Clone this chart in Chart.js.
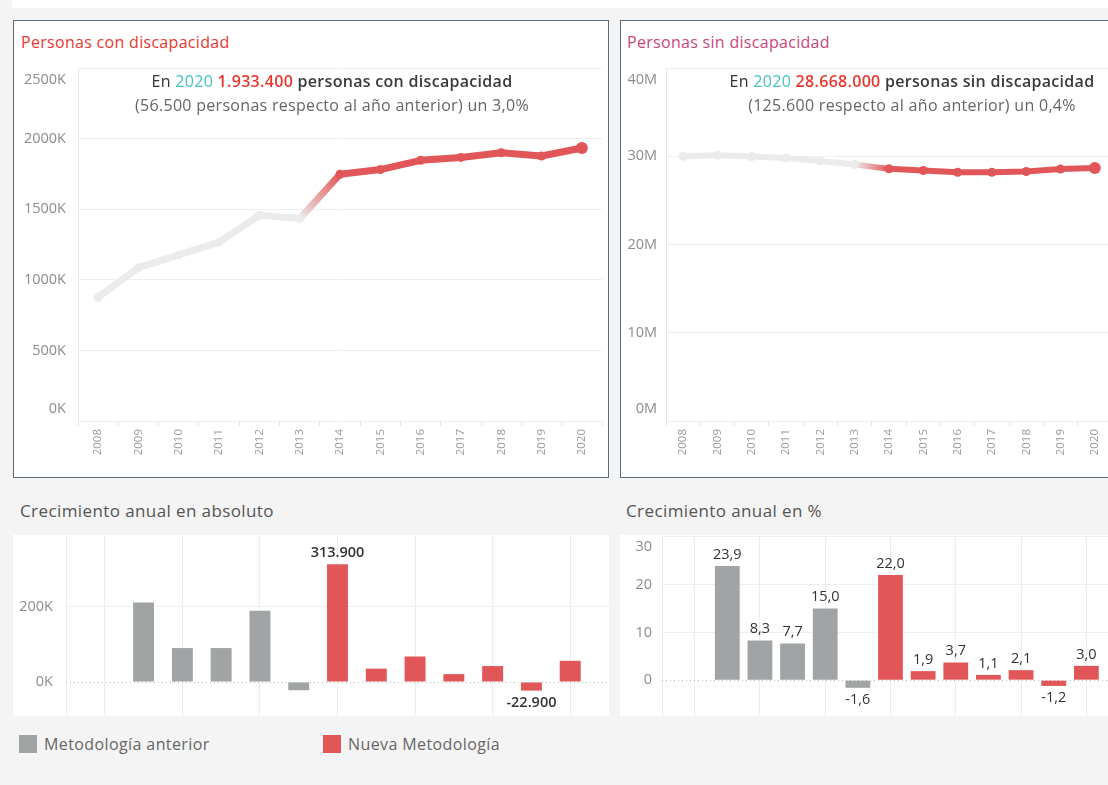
<!DOCTYPE html>
<html lang="es">
<head>
<meta charset="utf-8">
<script src="https://cdn.jsdelivr.net/npm/chart.js@4"></script>
<style>
  html, body { margin: 0; padding: 0; }
  body {
    width: 1108px; height: 785px; overflow: hidden; position: relative;
    background: #f4f4f4; font-family: "Open Sans", Lato, sans-serif;
  }
  .abs { position: absolute; }
  .strip { left: 12px; top: 0; width: 1110px; height: 8px; background: #fff; }
  .panel { background: #fff; border: 1px solid #5d6b78; box-sizing: border-box; }
  .title { font-size: 16px; letter-spacing: 0.3px; }
  .annot { text-align: center; font-size: 16px; letter-spacing: 0.3px; line-height: 24px; color: #333; white-space: nowrap; }
  .annot .sub { color: #666; }
  .teal { color: #45c3bf; }
  .red { color: #e8382e; font-weight: 600; }
  .strong { font-weight: 600; color: #3a3a3a; }
  .sect { font-size: 17px; letter-spacing: 0.4px; color: #555; }
  .box { background: #fff; }
  .legend { font-size: 16px; letter-spacing: 0.4px; color: #666; display: flex; align-items: center; }
  .sw { width: 18px; height: 18px; margin-right: 7px; }
</style>
</head>
<body>
<div class="abs strip"></div>

<div class="abs panel" style="left:13px;top:20px;width:596px;height:458px"></div>
<div class="abs panel" style="left:620px;top:20px;width:540px;height:458px"></div>

<div class="abs title" style="left:21px;top:31px;color:#e8382e">Personas con discapacidad</div>
<div class="abs title" style="left:627px;top:31px;color:#c9457e">Personas sin discapacidad</div>

<canvas id="conChart" class="abs" style="left:14px;top:60px" width="594" height="410"></canvas>
<canvas id="sinChart" class="abs" style="left:621px;top:60px" width="497" height="410"></canvas>

<div class="abs annot" style="left:66px;top:69px;width:532px">
  En <span class="teal">2020</span> <span class="red">1.933.400</span> <span class="strong">personas con discapacidad</span><br>
  <span class="sub">(56.500 personas respecto al año anterior) un 3,0%</span>
</div>
<div class="abs annot" style="left:700px;top:69px;width:424px">
  En <span class="teal">2020</span> <span class="red">28.668.000</span> <span class="strong">personas sin discapacidad</span><br>
  <span class="sub">(125.600 respecto al año anterior) un 0,4%</span>
</div>

<div class="abs sect" style="left:20px;top:499px">Crecimiento anual en absoluto</div>
<div class="abs sect" style="left:626px;top:499px">Crecimiento anual en %</div>

<div class="abs box" style="left:13px;top:535px;width:596px;height:181px"></div>
<div class="abs box" style="left:620px;top:535px;width:500px;height:181px"></div>
<canvas id="absChart" class="abs" style="left:13px;top:535px" width="596" height="181"></canvas>
<canvas id="pctChart" class="abs" style="left:621px;top:535px" width="498" height="181"></canvas>

<div class="abs legend" style="left:19px;top:733px"><div class="sw" style="background:#a0a4a5"></div>Metodología anterior</div>
<div class="abs legend" style="left:323px;top:733px"><div class="sw" style="background:#e15759"></div>Nueva Metodología</div>

<script>
// datos
const years = [2008, 2009, 2010, 2011, 2012, 2013, 2014, 2015, 2016, 2017, 2018, 2019, 2020];
const conDiscapacidad = [876600, 1086000, 1176200, 1266800, 1456800, 1433500, 1747400, 1780600, 1846400, 1866700, 1899800, 1876900, 1933400];
const sinDiscapacidad = [30000000, 30100000, 29970000, 29800000, 29450000, 29060000, 28570000, 28380000, 28190000, 28190000, 28270000, 28542400, 28668000];
const crecAbsoluto = [null, 212000, 90500, 90500, 190000, -22000, 313900, 35500, 68000, 21000, 42500, -22900, 56500];
const crecPorcentaje = [null, 23.9, 8.3, 7.7, 15.0, -1.6, 22.0, 1.9, 3.7, 1.1, 2.1, -1.2, 3.0];
const nuevaMetodologiaDesde = 2014;

const RED = '#e15759';
const GRAY = '#a0a4a5';
const LINE_GRAY = '#ebebeb';
const FONT = '"Open Sans", Lato, sans-serif';

Chart.defaults.font.family = FONT;

function thousands(v) {
  const s = String(Math.round(Math.abs(v))).replace(/\B(?=(\d{3})+(?!\d))/g, '.');
  return (v < 0 ? '-' : '') + s;
}

function stepTicks(min, max, step) {
  const out = [];
  for (let v = Math.ceil(min / step) * step; v <= max; v += step) out.push({ value: v });
  return out;
}

// tableau-style y labels: end labels pushed inside the plot
function makeYLabels(format, pad, edge) {
  return {
    id: 'yLabels',
    afterDraw(chart) {
      const s = chart.scales.y;
      const c = chart.ctx;
      c.save();
      c.font = '14.5px ' + FONT;
      c.fillStyle = '#8c8c8c';
      c.textAlign = 'right';
      c.textBaseline = 'middle';
      s.ticks.forEach(t => {
        let py = s.getPixelForValue(t.value);
        py = Math.max(s.top + edge, Math.min(s.bottom - edge, py));
        c.fillText(format(t.value), s.right - pad, py);
      });
      c.restore();
    }
  };
}

const zeroLine = {
  id: 'zeroLine',
  beforeDatasetsDraw(chart) {
    const y = chart.scales.y.getPixelForValue(0);
    const a = chart.chartArea;
    const c = chart.ctx;
    c.save();
    c.strokeStyle = '#b5b5b5';
    c.lineWidth = 1;
    c.setLineDash([1, 3]);
    c.beginPath();
    c.moveTo(a.left, Math.round(y) + 0.5);
    c.lineTo(a.right, Math.round(y) + 0.5);
    c.stroke();
    c.restore();
  }
};

function makeBarLabels(format, show, font) {
  return {
    id: 'barLabels',
    afterDatasetsDraw(chart) {
      const c = chart.ctx;
      const ds = chart.data.datasets[0];
      c.save();
      c.font = font;
      c.fillStyle = '#333';
      c.textAlign = 'center';
      chart.getDatasetMeta(0).data.forEach((bar, i) => {
        const v = ds.data[i].y;
        if (!show(i, ds.data)) return;
        if (v >= 0) {
          c.textBaseline = 'bottom';
          c.fillText(format(v), bar.x, bar.y - 4);
        } else {
          c.textBaseline = 'top';
          c.fillText(format(v), bar.x, bar.y + 5);
        }
      });
      c.restore();
    }
  };
}

function lineChart(id, values, yMax, yStep, yFmt, axisWidth, pad, lineWidth) {
  const canvas = document.getElementById(id);
  const g2d = canvas.getContext('2d');
  const split = years.indexOf(nuevaMetodologiaDesde);
  return new Chart(canvas, {
    type: 'line',
    data: {
      labels: years.map(String),
      datasets: [{
        data: values,
        borderWidth: lineWidth,
        borderCapStyle: 'round',
        borderJoinStyle: 'round',
        tension: 0,
        pointRadius: values.map((v, i) => i === values.length - 1 ? 6 : 4.5),
        pointBorderWidth: 0,
        pointBackgroundColor: values.map((v, i) => i >= split ? RED : LINE_GRAY),
        segment: {
          borderColor: ctx => {
            if (ctx.p0DataIndex >= split) return RED;
            if (ctx.p1DataIndex < split) return LINE_GRAY;
            const g = g2d.createLinearGradient(ctx.p0.x, ctx.p0.y, ctx.p1.x, ctx.p1.y);
            g.addColorStop(0, LINE_GRAY);
            g.addColorStop(1, RED);
            return g;
          }
        }
      }]
    },
    options: {
      responsive: false,
      animation: false,
      layout: { padding: { top: 8, right: 0, left: 0, bottom: 0 } },
      plugins: { legend: { display: false }, tooltip: { enabled: false } },
      scales: {
        x: {
          offset: true,
          grid: { offset: true, drawOnChartArea: false, drawTicks: true, tickLength: 5, color: '#e4e4e4' },
          border: { display: false },
          ticks: { minRotation: 90, maxRotation: 90, autoSkip: false, padding: 3, color: '#9a9a9a', font: { size: 11.5 } },
          afterFit: s => { s.height = 49; }
        },
        y: {
          min: 0, max: yMax,
          ticks: { display: false },
          afterBuildTicks: s => { s.ticks = stepTicks(0, yMax, yStep); },
          grid: { color: '#eeeeee', drawTicks: false },
          border: { color: '#e6e6e6' },
          afterFit: s => { s.width = axisWidth; }
        }
      }
    },
    plugins: [makeYLabels(yFmt, pad, 12)]
  });
}

lineChart('conChart', conDiscapacidad, 2500000, 500000, v => (v / 1000) + 'K', 64, 12, 7);
lineChart('sinChart', sinDiscapacidad, 40000000, 10000000, v => (v / 1000000) + 'M', 45, 9, 6);

function barChart(id, values, yMin, yMax, yStep, yFmt, axisWidth, pad, barPct, labelFmt, labelShow, labelFont) {
  const data = years.map((y, i) => ({ x: y, y: values[i] })).filter(d => d.y !== null);
  return new Chart(document.getElementById(id), {
    type: 'bar',
    data: {
      datasets: [{
        data: data,
        backgroundColor: data.map(d => d.x >= nuevaMetodologiaDesde ? RED : GRAY),
        categoryPercentage: 1,
        barPercentage: barPct
      }]
    },
    options: {
      responsive: false,
      animation: false,
      layout: { padding: 0 },
      plugins: { legend: { display: false }, tooltip: { enabled: false } },
      scales: {
        x: {
          type: 'linear', min: years[0] - 1, max: years[years.length - 1] + 1,
          offset: false, bounds: 'data',
          ticks: { display: false },
          afterBuildTicks: s => { s.ticks = stepTicks(years[0], years[years.length - 1], 2); },
          grid: { offset: false, color: '#ececec', drawTicks: false },
          border: { display: false },
          afterFit: s => { s.height = 0; }
        },
        y: {
          min: yMin, max: yMax, bounds: 'data',
          ticks: { display: false },
          afterBuildTicks: s => { s.ticks = stepTicks(yMin, yMax, yStep); },
          grid: { color: ctx => ctx.tick && ctx.tick.value === 0 ? 'rgba(0,0,0,0)' : '#efefef', drawTicks: false },
          border: { color: '#ececec' },
          afterFit: s => { s.width = axisWidth; }
        }
      }
    },
    plugins: [zeroLine, makeYLabels(yFmt, pad, 12), makeBarLabels(labelFmt, labelShow, labelFont)]
  });
}

const isExtreme = (i, arr) => {
  const ys = arr.map(d => d.y);
  return ys[i] === Math.max(...ys) || ys[i] === Math.min(...ys);
};

barChart('absChart', crecAbsoluto, -90700, 392000, 200000, v => (v / 1000) + 'K', 53, 13, 0.54,
  thousands, isExtreme, '600 14.5px ' + FONT);
barChart('pctChart', crecPorcentaje, -7.5, 30.4, 10, v => String(v), 41, 10, 0.76,
  v => v.toFixed(1).replace('.', ','), () => true, '14.5px ' + FONT);
</script>
</body>
</html>
